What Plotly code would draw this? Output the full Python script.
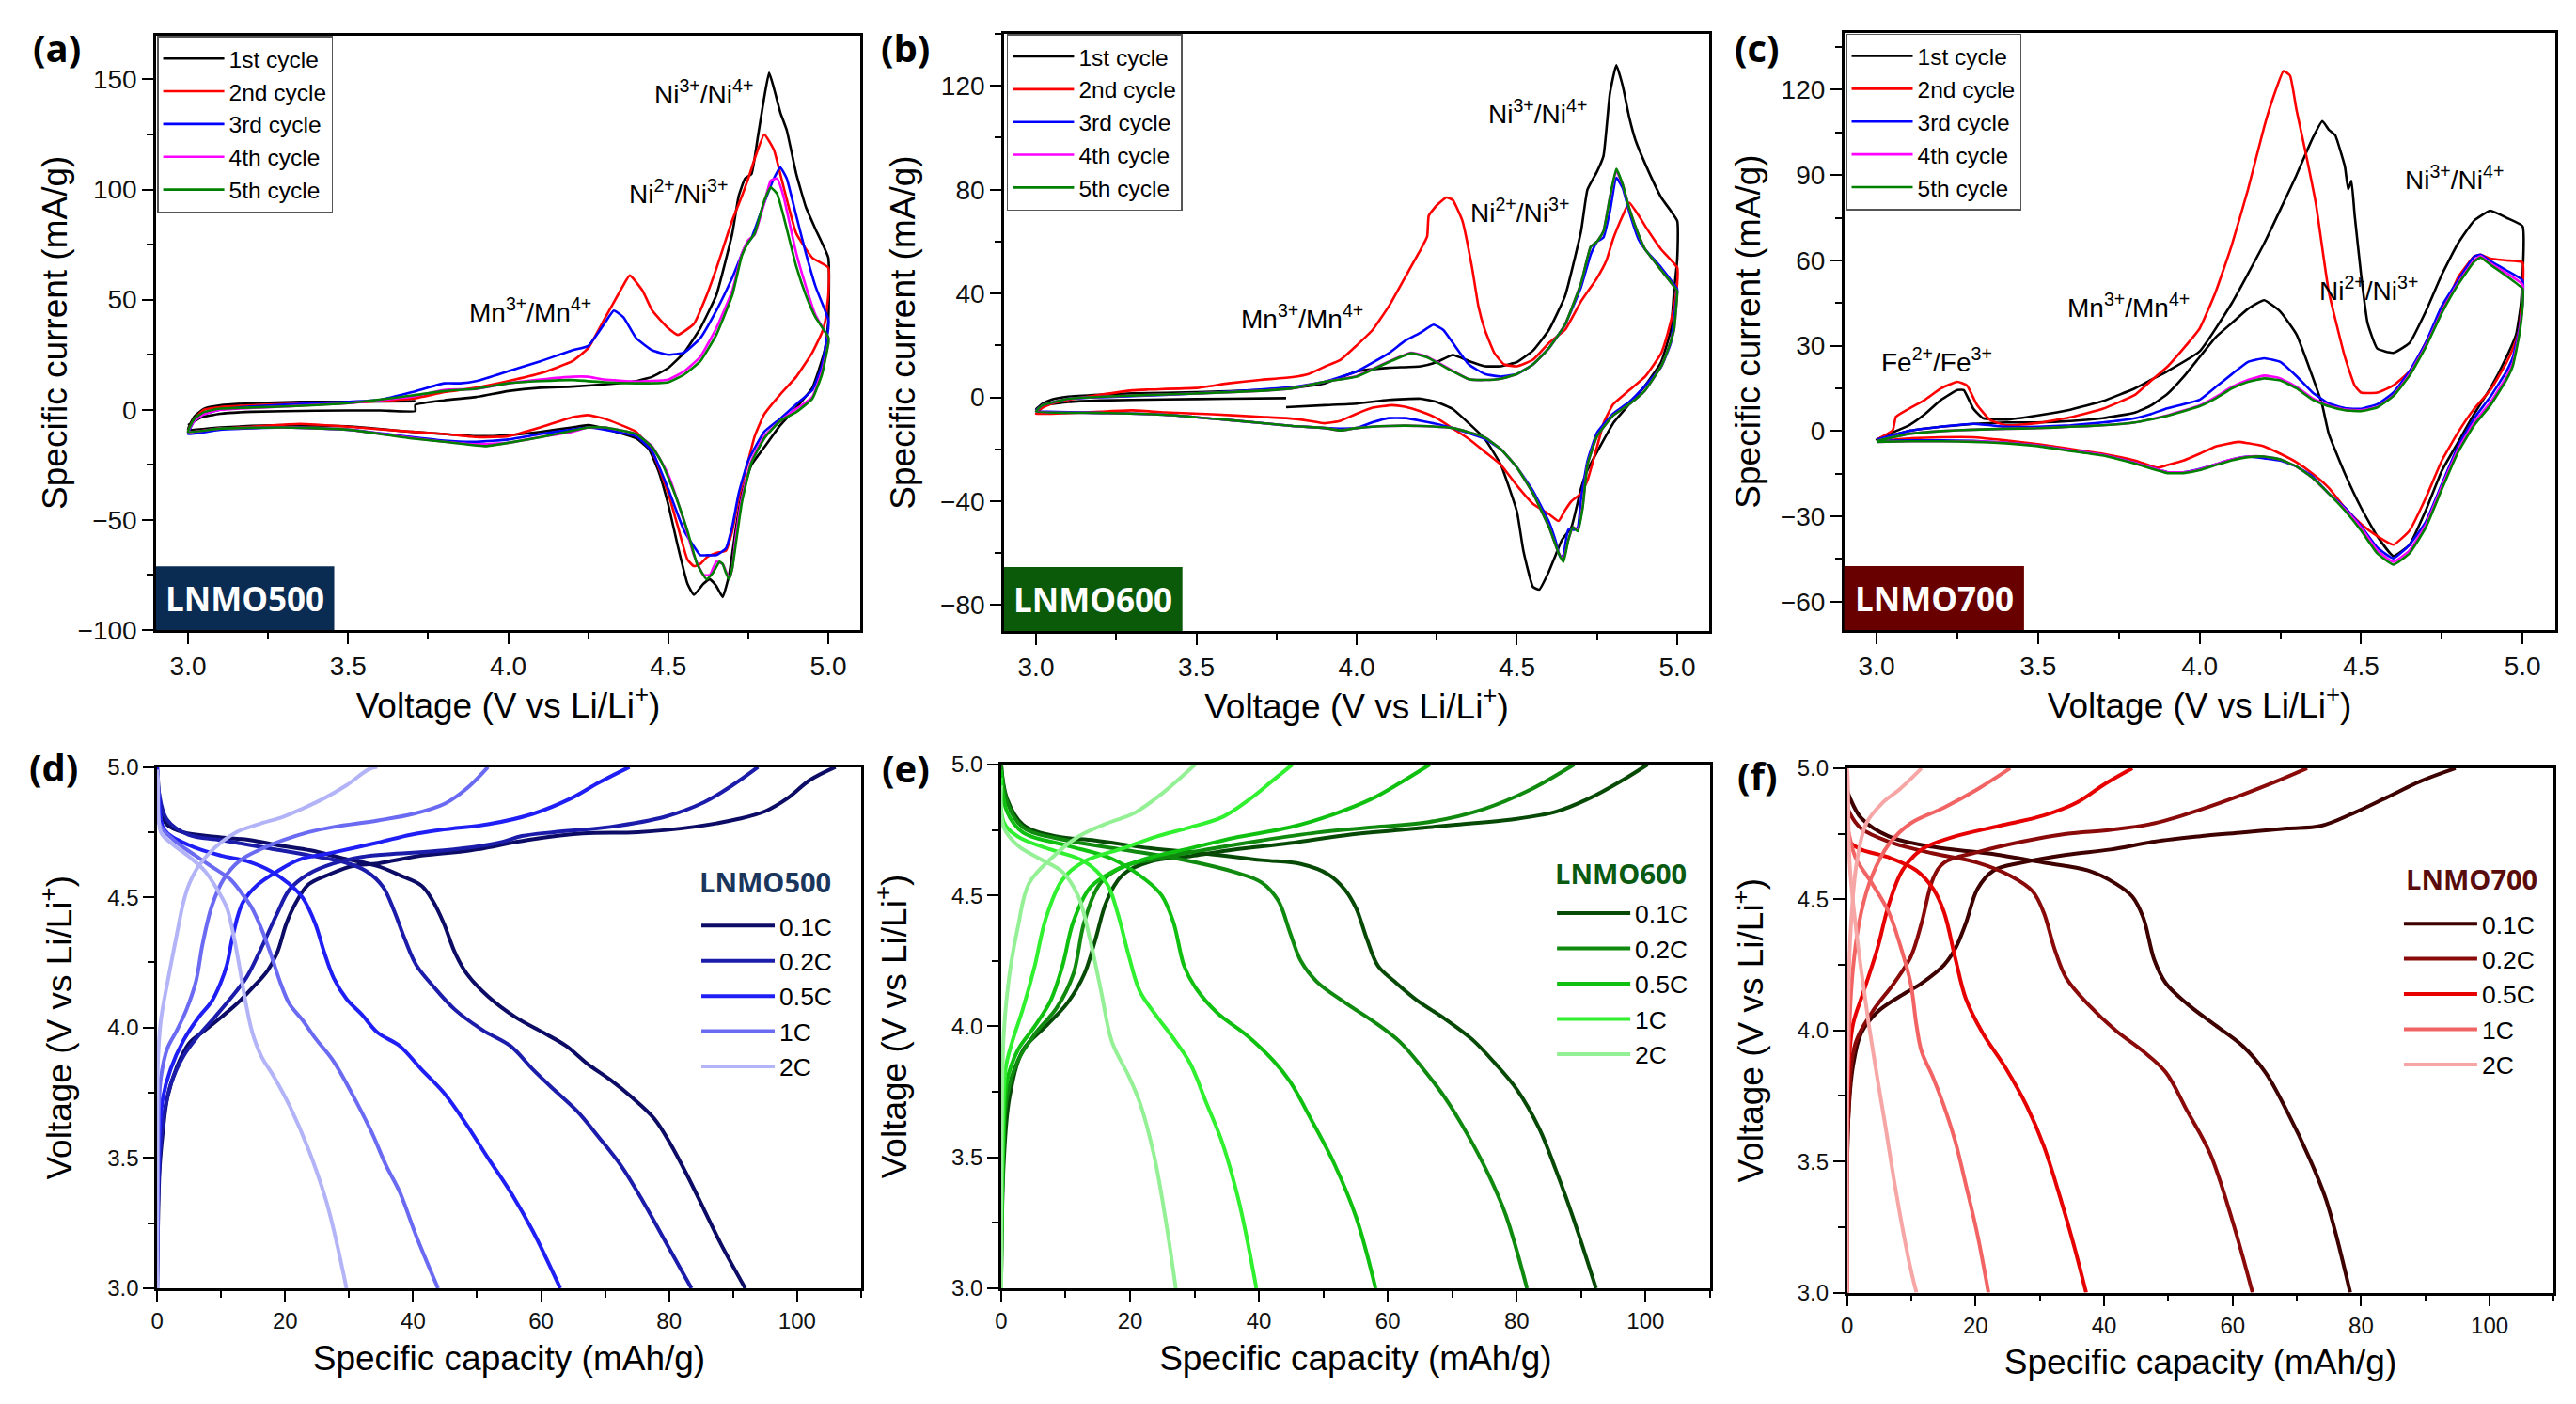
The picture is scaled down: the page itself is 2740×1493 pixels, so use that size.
import plotly.graph_objects as go

# page body keeps its default 8px margin, so the figure is drawn 16px smaller
W, H = 2724, 1477
FONT = "Liberation Sans"
BOLD = "Open Sans"

CYCLES = ["1st cycle", "2nd cycle", "3rd cycle", "4th cycle", "5th cycle"]
CV_COLORS = ["#000000", "#ff0000", "#0000ff", "#ff00ff", "#008000"]
RATES = ["0.1C", "0.2C", "0.5C", "1C", "2C"]

# ---------------- CV data, (voltage V, current mA/g) ----------------
# LNMO500
A_C1 = [(3.0, -7), (3.04, -3.5), (3.1, -1.8), (3.2, -0.9), (3.4, -0.4), (3.6, -0.3), (3.71, -0.6), (3.71, 2.2),
        (3.8, 4.3), (3.9, 5.8), (4.0, 8.5), (4.1, 10), (4.2, 10.5), (4.3, 11.5), (4.4, 13), (4.45, 15), (4.5, 19),
        (4.55, 26), (4.6, 37), (4.65, 52), (4.7, 80), (4.72, 97), (4.74, 105), (4.76, 107), (4.78, 124), (4.8, 142),
        (4.815, 153), (4.83, 146), (4.85, 135), (4.87, 127), (4.9, 107), (4.93, 92), (4.96, 82), (5.0, 69),
        (5.0, 40), (4.99, 28), (4.97, 18), (4.95, 10), (4.9, 1), (4.85, -7), (4.8, -17), (4.76, -25), (4.73, -38),
        (4.71, -55), (4.69, -75), (4.67, -85), (4.65, -80), (4.63, -77), (4.61, -79), (4.58, -84), (4.56, -79),
        (4.53, -62), (4.5, -43), (4.47, -28), (4.44, -18), (4.4, -13), (4.3, -8.5), (4.25, -7), (4.2, -8), (4.1, -10),
        (4.0, -11.5), (3.9, -12), (3.8, -11), (3.7, -10), (3.5, -7.5), (3.3, -7), (3.1, -8), (3.0, -9),
        (3.02, -3), (3.05, 0.5), (3.1, 2), (3.2, 3), (3.35, 3.6), (3.5, 3.6), (3.71, 3.9)]
A_C2 = [(3.0, -10), (3.02, -4), (3.05, 0), (3.1, 1.2), (3.2, 2), (3.35, 2.8), (3.5, 3.2), (3.6, 4), (3.7, 5),
        (3.8, 8), (3.9, 10), (4.0, 13), (4.1, 16.5), (4.2, 22), (4.25, 28), (4.3, 41), (4.35, 54), (4.38, 61),
        (4.42, 54), (4.45, 45), (4.5, 37), (4.53, 34), (4.58, 39), (4.62, 52), (4.65, 64), (4.7, 86), (4.73, 97),
        (4.75, 105), (4.77, 114), (4.8, 125), (4.83, 118), (4.85, 107), (4.88, 90), (4.9, 80), (4.95, 69), (5.0, 64.5),
        (5.0, 52), (4.99, 40), (4.98, 35), (4.95, 26), (4.9, 15), (4.85, 7), (4.8, -2), (4.77, -12), (4.75, -23),
        (4.72, -40), (4.7, -55), (4.68, -64), (4.65, -65), (4.62, -67), (4.6, -70), (4.58, -71), (4.56, -68),
        (4.53, -53), (4.5, -38), (4.45, -19), (4.4, -10), (4.3, -4), (4.25, -2.4), (4.2, -3.4), (4.1, -8), (4.0, -12),
        (3.9, -12.4), (3.8, -11), (3.7, -10), (3.5, -7.7), (3.35, -6.4), (3.2, -7.7), (3.1, -8.5), (3.0, -10)]
A_C3 = [(3.0, -11), (3.02, -5), (3.05, -2), (3.1, 0), (3.2, 1.5), (3.4, 3), (3.6, 4.5), (3.7, 8), (3.8, 12),
        (3.85, 12), (3.9, 13), (4.0, 17.5), (4.1, 22), (4.2, 27), (4.25, 29), (4.3, 39), (4.33, 45), (4.36, 42),
        (4.4, 32.5), (4.45, 27), (4.5, 25), (4.55, 26), (4.6, 32.5), (4.65, 45), (4.7, 60), (4.74, 74), (4.76, 78),
        (4.8, 94), (4.83, 105), (4.85, 110), (4.87, 105), (4.9, 88), (4.93, 71), (4.96, 56), (4.99, 45), (5.0, 41),
        (5.0, 37), (4.98, 20), (4.95, 9), (4.9, 2.5), (4.85, -4), (4.8, -10), (4.75, -23), (4.72, -38), (4.7, -53),
        (4.68, -63), (4.65, -66), (4.62, -66), (4.6, -66), (4.55, -55), (4.5, -36), (4.45, -19), (4.4, -12),
        (4.3, -9), (4.25, -8), (4.2, -9), (4.1, -11), (4.0, -13.5), (3.9, -14.5), (3.8, -14), (3.7, -12.4),
        (3.5, -9), (3.3, -8), (3.1, -9), (3.0, -11)]
A_C4 = [(3.0, -10), (3.02, -5), (3.05, -2), (3.1, 0), (3.3, 1.5), (3.5, 3), (3.7, 6), (3.8, 9), (3.9, 9.4),
        (4.0, 12), (4.1, 13.7), (4.2, 15), (4.25, 15), (4.3, 13.7), (4.4, 12.8), (4.5, 13.7), (4.55, 17.5), (4.6, 24),
        (4.65, 37), (4.7, 54), (4.73, 71), (4.75, 77), (4.77, 79.5), (4.8, 94), (4.82, 104), (4.84, 105), (4.86, 97),
        (4.9, 71), (4.93, 56), (4.96, 43), (5.0, 32.5),
        (5.0, 30), (4.98, 17.5), (4.95, 5.8), (4.9, 0.4), (4.85, -5), (4.8, -12), (4.76, -23), (4.73, -40),
        (4.71, -59), (4.7, -72), (4.69, -76.5), (4.67, -70), (4.65, -69), (4.63, -75), (4.61, -75), (4.58, -66),
        (4.55, -51), (4.5, -29.5), (4.45, -16.7), (4.4, -11), (4.3, -8), (4.25, -8), (4.2, -10), (4.1, -12.4),
        (4.0, -15), (3.9, -15.6), (3.8, -14.5), (3.7, -12.8), (3.5, -9), (3.3, -8), (3.1, -8.5), (3.0, -10)]
A_C5 = [(3.0, -10), (3.02, -4), (3.05, -1), (3.1, 0.5), (3.3, 1.5), (3.5, 3), (3.7, 6.5), (3.8, 8.5), (3.9, 9.5),
        (4.0, 12), (4.1, 13), (4.2, 13.5), (4.3, 12.5), (4.4, 12), (4.5, 12.5), (4.55, 16), (4.6, 22), (4.65, 34),
        (4.7, 52), (4.73, 70), (4.75, 76), (4.77, 80), (4.8, 95), (4.82, 101), (4.84, 98), (4.86, 88), (4.9, 65),
        (4.93, 52), (4.96, 42), (5.0, 33),
        (5.0, 30), (4.98, 16), (4.95, 5), (4.9, -1), (4.85, -5), (4.8, -13), (4.76, -24), (4.73, -42), (4.71, -62),
        (4.7, -72), (4.69, -77), (4.68, -74), (4.67, -70), (4.66, -69), (4.64, -74), (4.62, -77), (4.59, -70),
        (4.56, -55), (4.52, -38), (4.48, -24), (4.45, -17), (4.4, -11), (4.3, -8), (4.25, -8), (4.2, -9.5),
        (4.1, -12.5), (4.0, -15), (3.93, -16.5), (3.8, -14.5), (3.7, -13), (3.5, -9), (3.3, -8), (3.1, -8.5), (3.0, -10)]

# LNMO600
B_C1 = [(3.78, -0.3), (3.6, -0.5), (3.4, -0.8), (3.2, -1.2), (3.1, -1.8), (3.03, -3), (3.0, -4.5), (3.02, -2.5),
        (3.05, -0.8), (3.1, 0.3), (3.2, 1), (3.3, 1.5), (3.5, 2), (3.7, 2.8), (3.8, 3.5), (3.9, 5.4), (4.0, 10),
        (4.1, 11.4), (4.2, 12), (4.25, 13.6), (4.3, 16.3), (4.35, 14), (4.4, 12), (4.45, 12), (4.5, 13.6), (4.55, 18),
        (4.6, 26), (4.65, 39), (4.7, 64), (4.72, 80), (4.75, 87), (4.77, 93), (4.79, 117), (4.81, 128), (4.83, 120),
        (4.85, 108), (4.87, 99), (4.9, 90), (4.95, 77), (5.0, 68),
        (5.0, 53), (4.99, 41), (4.98, 26), (4.95, 13.6), (4.9, 4.5), (4.85, -2.7), (4.8, -10), (4.75, -21),
        (4.72, -28), (4.7, -35), (4.67, -50), (4.64, -55), (4.62, -61), (4.6, -67), (4.57, -74), (4.55, -73),
        (4.52, -59), (4.5, -44), (4.45, -26), (4.4, -16), (4.35, -10), (4.3, -4.5), (4.25, -1.8), (4.2, -0.5),
        (4.1, -1), (4.0, -2.4), (3.9, -3), (3.78, -3.8)]
B_C2 = [(3.78, -8), (3.7, -7.5), (3.55, -6.5), (3.4, -5.8), (3.3, -5), (3.2, -5.5), (3.1, -6), (3.0, -6.3),
        (3.02, -4), (3.05, -2.4), (3.1, -1), (3.2, 1), (3.3, 2.7), (3.35, 3), (3.5, 3.6), (3.6, 5.4), (3.7, 6.7),
        (3.8, 7.8), (3.85, 9), (3.9, 11.8), (3.95, 14.5), (4.0, 20), (4.05, 26), (4.1, 35), (4.15, 46), (4.2, 57),
        (4.22, 62), (4.225, 70), (4.25, 74), (4.28, 77), (4.3, 76), (4.33, 68), (4.36, 50), (4.38, 35), (4.4, 26),
        (4.43, 17), (4.46, 12.7), (4.5, 12), (4.55, 14.5), (4.6, 21), (4.65, 26), (4.7, 37), (4.75, 46), (4.78, 53),
        (4.8, 61), (4.83, 70), (4.85, 75), (4.88, 70), (4.9, 66), (4.95, 57), (5.0, 50),
        (5.0, 44), (4.99, 35), (4.97, 24.5), (4.95, 17), (4.9, 8), (4.85, 2.7), (4.8, -2.7), (4.77, -10),
        (4.75, -19), (4.72, -32), (4.7, -37), (4.67, -40), (4.65, -43.5), (4.63, -47.6), (4.6, -45), (4.55, -41),
        (4.5, -34), (4.45, -26), (4.4, -21), (4.35, -16), (4.3, -12), (4.25, -8), (4.2, -5.4), (4.15, -3.6),
        (4.11, -3), (4.05, -4), (4.0, -6.3), (3.95, -9), (3.9, -10), (3.85, -9), (3.78, -8)]
B_C3 = [(3.0, -5), (3.02, -3), (3.05, -2), (3.1, -0.5), (3.3, 0.5), (3.5, 1.5), (3.7, 3), (3.8, 4), (3.9, 6),
        (4.0, 10), (4.1, 17), (4.15, 21.7), (4.2, 25), (4.24, 28), (4.27, 26), (4.3, 21), (4.35, 12.7), (4.4, 9),
        (4.45, 8), (4.5, 9), (4.55, 12.7), (4.6, 19), (4.65, 28), (4.7, 42.5), (4.73, 55), (4.75, 60), (4.77, 61.6),
        (4.79, 71.6), (4.81, 84.6), (4.83, 80.6), (4.85, 71.6), (4.88, 60.7), (4.9, 57), (4.95, 50), (5.0, 41.7),
        (5.0, 41), (4.99, 30), (4.98, 21), (4.95, 11.8), (4.9, 4.5), (4.85, -1.8), (4.8, -6.3), (4.75, -13.6),
        (4.72, -24.5), (4.7, -39), (4.69, -50), (4.68, -51), (4.66, -51), (4.645, -60.7), (4.635, -61.6),
        (4.62, -55), (4.6, -48), (4.55, -36), (4.5, -27), (4.45, -20), (4.4, -16), (4.3, -11.8), (4.2, -9),
        (4.15, -8), (4.1, -8), (4.05, -9.6), (4.0, -11.8), (3.95, -12), (3.9, -11.8), (3.8, -11), (3.6, -8.7),
        (3.4, -6.7), (3.2, -6), (3.0, -5.4)]
B_C4 = [(3.0, -5.4), (3.02, -3), (3.05, -2), (3.1, -0.5), (3.3, 0.7), (3.5, 1.5), (3.7, 2.5), (3.8, 3.5), (3.9, 6),
        (4.0, 8.2), (4.1, 13.8), (4.17, 17.2), (4.22, 15.6), (4.3, 10.2), (4.35, 7), (4.4, 6.7), (4.45, 7.2),
        (4.5, 9), (4.55, 12.7), (4.6, 19), (4.65, 28), (4.7, 44), (4.73, 58), (4.75, 60), (4.77, 64), (4.79, 77),
        (4.81, 87), (4.83, 82), (4.85, 73), (4.88, 62.5), (4.9, 57), (4.95, 49), (5.0, 41),
        (5.0, 40), (4.99, 26), (4.97, 18), (4.95, 12), (4.9, 2.7), (4.85, -2.7), (4.8, -7), (4.75, -15), (4.72, -26),
        (4.705, -42), (4.69, -51), (4.675, -50), (4.66, -55), (4.645, -62.5), (4.63, -60), (4.6, -50), (4.55, -37),
        (4.5, -27), (4.45, -20), (4.4, -15.4), (4.3, -11.8), (4.2, -11), (4.1, -11), (4.0, -11.8), (3.95, -12.7),
        (3.9, -11.8), (3.8, -11), (3.6, -8.7), (3.4, -6.7), (3.2, -6), (3.0, -5.4)]
B_C5 = [(3.0, -5.4), (3.02, -3), (3.05, -2), (3.1, -0.5), (3.3, 0.7), (3.5, 1.5), (3.7, 2.5), (3.8, 3.5), (3.9, 6),
        (4.0, 8), (4.1, 13.6), (4.17, 17), (4.22, 15.4), (4.3, 10), (4.35, 7), (4.4, 6.7), (4.45, 7.2), (4.5, 9),
        (4.55, 12.7), (4.6, 19), (4.65, 28), (4.7, 44), (4.73, 58), (4.75, 60), (4.77, 64), (4.79, 77), (4.81, 88),
        (4.83, 82), (4.85, 73), (4.88, 62.5), (4.9, 57), (4.95, 49), (5.0, 41),
        (5.0, 40), (4.99, 26), (4.97, 18), (4.95, 12), (4.9, 2.7), (4.85, -2.7), (4.8, -7), (4.75, -15), (4.72, -26),
        (4.705, -42.6), (4.69, -51.6), (4.675, -50), (4.66, -55), (4.645, -63.4), (4.63, -60), (4.6, -50),
        (4.55, -37), (4.5, -27), (4.45, -20), (4.4, -15.4), (4.3, -11.8), (4.2, -11), (4.1, -11), (4.0, -11.8),
        (3.95, -12.7), (3.9, -11.8), (3.8, -11), (3.6, -8.7), (3.4, -6.7), (3.2, -6), (3.0, -5.4)]

# LNMO700
C_C1 = [(3.0, -3), (3.05, -0.5), (3.1, 2), (3.15, 6), (3.2, 11), (3.25, 14.4), (3.27, 14.4), (3.3, 7.8),
        (3.33, 4.5), (3.4, 4), (3.5, 5.5), (3.6, 7.5), (3.7, 10.5), (3.8, 15), (3.85, 18), (3.9, 21), (4.0, 28),
        (4.1, 45), (4.2, 66), (4.3, 90), (4.35, 103), (4.38, 109), (4.4, 106), (4.42, 104), (4.44, 97), (4.45, 93),
        (4.46, 85), (4.47, 88), (4.48, 76), (4.5, 55), (4.52, 38), (4.55, 29), (4.6, 27.5), (4.65, 31), (4.7, 42),
        (4.75, 55), (4.8, 66), (4.85, 74), (4.9, 77.5), (4.95, 75), (5.0, 72),
        (4.995, 45), (4.98, 34), (4.95, 26), (4.9, 15), (4.85, 6), (4.8, -4), (4.75, -14), (4.7, -28), (4.65, -40),
        (4.6, -44), (4.55, -37), (4.5, -27), (4.45, -15), (4.4, -1), (4.38, 9), (4.35, 19), (4.3, 34), (4.25, 42),
        (4.2, 46), (4.15, 43), (4.1, 38), (4.05, 33), (4.0, 26), (3.95, 19), (3.9, 13), (3.85, 9), (3.8, 6.5),
        (3.7, 4.5), (3.6, 3.5), (3.5, 3), (3.4, 3), (3.3, 2.5), (3.2, 1.5), (3.1, 0), (3.0, -3)]
C_C2 = [(3.0, -3), (3.05, 0.3), (3.06, 5), (3.1, 7.8), (3.15, 11), (3.2, 15), (3.25, 17.3), (3.28, 16), (3.31, 9.4),
        (3.35, 4), (3.4, 2), (3.5, 2.8), (3.6, 4.8), (3.7, 7.8), (3.8, 12.7), (3.85, 17.7), (3.9, 22.6), (3.95, 29),
        (4.0, 36), (4.05, 49), (4.1, 65.5), (4.15, 85), (4.2, 107), (4.23, 118), (4.26, 126.6), (4.28, 125),
        (4.3, 113), (4.33, 97), (4.36, 80), (4.4, 49), (4.45, 26), (4.48, 16), (4.5, 13.5), (4.55, 13.5), (4.6, 16),
        (4.65, 21), (4.7, 31), (4.75, 43), (4.78, 49), (4.8, 54), (4.85, 61.4), (4.87, 62), (4.9, 60.6), (4.95, 60),
        (5.0, 59.3),
        (5.0, 49), (4.99, 36), (4.97, 29), (4.95, 24), (4.9, 14.4), (4.85, 7.8), (4.8, -0.5), (4.75, -10.4),
        (4.7, -23.6), (4.65, -35), (4.6, -40), (4.55, -37), (4.5, -32.7), (4.45, -27), (4.4, -20), (4.35, -15),
        (4.3, -11), (4.25, -8), (4.2, -5.4), (4.15, -4.3), (4.12, -3.8), (4.05, -5.4), (4.0, -8), (3.95, -10.4),
        (3.9, -12), (3.87, -12.9), (3.8, -10.4), (3.7, -8), (3.6, -6.3), (3.5, -4.6), (3.4, -3.3), (3.3, -2.2),
        (3.2, -2.2), (3.1, -2.6), (3.0, -3.5)]
C_C3 = [(3.0, -3), (3.1, 0), (3.2, 1.5), (3.3, 2.5), (3.4, 1.5), (3.5, 1.5), (3.6, 2), (3.7, 3), (3.8, 4.5),
        (3.85, 6), (3.9, 8), (4.0, 11), (4.05, 15.5), (4.1, 20), (4.15, 24.3), (4.2, 25.6), (4.25, 24.3), (4.3, 19.3),
        (4.35, 13.5), (4.4, 9.7), (4.45, 8), (4.5, 7.8), (4.55, 9.4), (4.6, 13.5), (4.65, 21), (4.7, 31), (4.75, 44),
        (4.8, 53), (4.85, 61.4), (4.87, 62), (4.9, 59.8), (4.95, 56.5), (5.0, 53),
        (5.0, 45), (4.99, 36), (4.97, 26), (4.95, 21), (4.9, 12), (4.85, 4.5), (4.8, -5.4), (4.75, -18.7),
        (4.7, -32), (4.65, -40), (4.6, -44.8), (4.55, -41), (4.5, -33.5), (4.45, -27), (4.4, -22), (4.35, -16),
        (4.3, -12.5), (4.25, -10.4), (4.2, -9.6), (4.15, -9), (4.1, -10), (4.05, -11.7), (4.0, -13.4),
        (3.95, -14.5), (3.9, -14.5), (3.8, -11.2), (3.7, -8.4), (3.6, -6.8), (3.5, -5.1), (3.4, -4.1), (3.3, -3.5),
        (3.2, -3.3), (3.1, -3.3), (3.0, -3.5)]
C_C4 = [(3.0, -3.5), (3.1, -1), (3.2, 0), (3.3, 0.5), (3.4, 0.8), (3.5, 1), (3.6, 1.5), (3.7, 2), (3.8, 3),
        (3.9, 5.5), (4.0, 9), (4.05, 12), (4.1, 15.5), (4.15, 18), (4.2, 19.5), (4.25, 18.5), (4.3, 15.5),
        (4.35, 11.5), (4.4, 9), (4.45, 7.5), (4.5, 7.3), (4.55, 8.5), (4.6, 12.5), (4.65, 20), (4.7, 30), (4.75, 42),
        (4.8, 52), (4.85, 60), (4.87, 61.5), (4.9, 59), (4.95, 55.5), (5.0, 51.5),
        (5.0, 45), (4.99, 35), (4.97, 24), (4.95, 19), (4.9, 10), (4.85, 3), (4.8, -6.5), (4.75, -19.5), (4.7, -33),
        (4.65, -42), (4.6, -46), (4.55, -42), (4.5, -34), (4.45, -27.5), (4.4, -22), (4.35, -16.5), (4.3, -12.5),
        (4.25, -10), (4.2, -9), (4.15, -9), (4.1, -10), (4.05, -11.7), (4.0, -13.5), (3.95, -14.5), (3.9, -14.5),
        (3.8, -11.2), (3.7, -8.4), (3.6, -6.8), (3.5, -5.1), (3.4, -4.1), (3.3, -3.6), (3.2, -3.6), (3.1, -3.6),
        (3.0, -3.8)]
C_C5 = [(3.0, -3.5), (3.1, -1), (3.2, 0), (3.3, 0.5), (3.4, 0.8), (3.5, 1), (3.6, 1.5), (3.7, 2), (3.8, 3),
        (3.9, 5.3), (4.0, 8.7), (4.05, 11.5), (4.1, 15), (4.15, 17.3), (4.2, 18.5), (4.25, 17.8), (4.3, 15),
        (4.35, 11), (4.4, 8.7), (4.45, 7.3), (4.5, 7), (4.55, 8.3), (4.6, 12.3), (4.65, 19.5), (4.7, 29.5),
        (4.75, 41.5), (4.8, 51.5), (4.85, 59.5), (4.87, 61), (4.9, 58.5), (4.95, 54.5), (5.0, 50),
        (5.0, 44), (4.99, 34), (4.97, 23), (4.95, 18), (4.9, 9), (4.85, 2), (4.8, -7.5), (4.75, -20.5), (4.7, -34),
        (4.65, -43), (4.6, -47), (4.55, -43), (4.5, -35), (4.45, -28), (4.4, -22), (4.35, -16.5), (4.3, -12.5),
        (4.25, -10), (4.2, -9), (4.15, -9.2), (4.1, -10.3), (4.05, -12), (4.0, -13.8), (3.95, -14.8), (3.9, -14.8),
        (3.8, -11.5), (3.7, -8.6), (3.6, -7), (3.5, -5.3), (3.4, -4.3), (3.3, -3.8), (3.2, -3.6), (3.1, -3.6),
        (3.0, -3.8)]

# ---------------- charge/discharge data, (capacity mAh/g, voltage V) ----------------
D_DIS = [
    [(0, 5.0), (0.3, 4.9), (0.6, 4.83), (1.5, 4.78), (4, 4.75), (10, 4.73), (14.5, 4.72), (18.8, 4.70), (24, 4.68),
     (29, 4.65), (34.4, 4.62), (37.9, 4.585), (41.3, 4.545), (43, 4.49), (44.8, 4.40), (46.5, 4.29), (48.3, 4.21),
     (51.7, 4.12), (56, 4.04), (60.4, 3.98), (63.9, 3.93), (67.3, 3.86), (70.8, 3.80), (74.3, 3.73), (77.7, 3.65),
     (80.3, 3.55), (82.9, 3.43), (85.5, 3.30), (88.1, 3.17), (91.9, 3.0)],
    [(0, 5.0), (0.3, 4.9), (1.5, 4.8), (4.9, 4.74), (10, 4.72), (17, 4.69), (24, 4.66), (29.2, 4.635), (32.7, 4.60),
     (35.3, 4.54), (37, 4.45), (38.7, 4.34), (40.5, 4.24), (43.1, 4.16), (46.5, 4.07), (50.9, 3.99), (55.2, 3.93),
     (58.7, 3.84), (62.1, 3.76), (65.6, 3.68), (69, 3.58), (72.5, 3.47), (76, 3.33), (79.4, 3.18), (83.5, 3.0)],
    [(0, 5.0), (0.3, 4.88), (1.1, 4.76), (5, 4.70), (10, 4.66), (13.9, 4.64), (17.8, 4.60), (20.7, 4.55),
     (22.7, 4.50), (24.7, 4.40), (26.1, 4.29), (27.6, 4.19), (29.6, 4.11), (32, 4.05), (34.5, 3.98), (37.9, 3.93),
     (41.3, 3.84), (44.8, 3.75), (48.3, 3.63), (51.7, 3.50), (55.2, 3.37), (58.7, 3.22), (63, 3.0)],
    [(0, 4.97), (0.4, 4.78), (2.6, 4.72), (6, 4.66), (9, 4.61), (11.4, 4.57), (13.4, 4.51), (14.8, 4.46),
     (16.3, 4.38), (17.8, 4.28), (19.3, 4.17), (20.7, 4.09), (22.7, 4.03), (24.7, 3.96), (27.6, 3.87), (30.6, 3.74),
     (33.5, 3.60), (35.8, 3.47), (37.9, 3.37), (40.5, 3.20), (43.9, 3.0)],
    [(0, 4.99), (0.15, 4.95), (0.6, 4.75), (2.1, 4.71), (5, 4.656), (7.5, 4.60), (9.4, 4.53), (10.9, 4.46),
     (11.9, 4.36), (12.9, 4.23), (13.9, 4.09), (14.9, 3.98), (16.3, 3.89), (18.3, 3.81), (20.7, 3.70), (23.7, 3.53),
     (26.6, 3.32), (29.6, 3.0)],
]
D_CH = [
    [(0, 3.0), (0.15, 3.25), (0.4, 3.46), (0.9, 3.60), (1.6, 3.73), (3.1, 3.85), (5, 3.94), (7.5, 3.99), (10, 4.04),
     (12.4, 4.09), (14.8, 4.15), (17.3, 4.22), (18.8, 4.29), (20.2, 4.40), (21.7, 4.48), (23.7, 4.55), (27.1, 4.59),
     (30.5, 4.62), (34.5, 4.63), (41.3, 4.66), (49, 4.68), (57.9, 4.72), (66.5, 4.745), (75.1, 4.75), (83.8, 4.77),
     (90.7, 4.80), (95, 4.83), (98.5, 4.88), (102, 4.95), (106, 5.0)],
    [(0, 3.0), (0.15, 3.32), (0.5, 3.53), (1.1, 3.67), (2.1, 3.78), (4.1, 3.89), (6.5, 3.97), (9, 4.04), (11.4, 4.11),
     (13.9, 4.19), (15.8, 4.28), (17.3, 4.36), (18.8, 4.44), (20.7, 4.53), (23.7, 4.59), (27.6, 4.63), (32, 4.655),
     (36, 4.665), (44.8, 4.68), (53.5, 4.71), (57, 4.735), (62, 4.75), (70.8, 4.77), (79.5, 4.81), (85.5, 4.865),
     (89.9, 4.93), (93.9, 5.0)],
    [(0, 3.0), (0.15, 3.4), (0.4, 3.60), (0.9, 3.73), (2.1, 3.84), (4.1, 3.95), (6.5, 4.04), (8.5, 4.10),
     (9.9, 4.17), (10.9, 4.24), (11.9, 4.36), (13.4, 4.48), (15.8, 4.55), (18.8, 4.60), (22.2, 4.645), (27.1, 4.67),
     (34.5, 4.71), (39.6, 4.74), (44.8, 4.76), (51.7, 4.78), (58.7, 4.82), (64.7, 4.88), (69, 4.94), (73.8, 5.0)],
    [(0, 3.0), (0.15, 3.46), (0.3, 3.71), (0.6, 3.81), (1.6, 3.92), (3.1, 3.99), (4.6, 4.07), (6.1, 4.18),
     (7.1, 4.32), (8.6, 4.47), (10.4, 4.57), (12.9, 4.64), (15.8, 4.68), (19.8, 4.72), (23.7, 4.75), (27.6, 4.77),
     (34.5, 4.795), (40, 4.82), (45, 4.86), (48.5, 4.92), (51.7, 5.0)],
    [(0, 3.0), (0.05, 3.67), (0.15, 3.88), (0.6, 4.03), (1.6, 4.17), (3.1, 4.36), (4.1, 4.48), (5, 4.55), (6.5, 4.62),
     (9, 4.69), (12.4, 4.75), (15.8, 4.78), (19.8, 4.81), (22.7, 4.84), (26.1, 4.88), (29.6, 4.93), (33, 4.99),
     (34.4, 5.0)],
]
E_DIS = [
    [(0, 5.0), (0.9, 4.87), (3.4, 4.77), (8.6, 4.725), (14.6, 4.71), (23.2, 4.68), (31.8, 4.66), (40.4, 4.635),
     (46.5, 4.62), (50.8, 4.58), (53.4, 4.52), (55.1, 4.45), (56.8, 4.33), (58.5, 4.23), (61.1, 4.17), (64.5, 4.10),
     (68.8, 4.03), (73.1, 3.95), (76.6, 3.86), (80, 3.76), (83.5, 3.61), (86.1, 3.45), (88.6, 3.28), (92.3, 3.0)],
    [(0, 5.0), (0.9, 4.86), (3.4, 4.76), (10.3, 4.71), (18.9, 4.675), (27.5, 4.64), (36.1, 4.59), (40.4, 4.55),
     (43, 4.48), (44.8, 4.36), (46.5, 4.25), (49, 4.17), (53.4, 4.09), (57.7, 4.02), (61.9, 3.94), (65.4, 3.84),
     (68.8, 3.73), (72.3, 3.59), (75.7, 3.43), (78.3, 3.28), (81.6, 3.0)],
    [(0, 4.98), (0.9, 4.82), (3.4, 4.74), (10.3, 4.69), (17.2, 4.64), (22.4, 4.56), (24.9, 4.50), (26.7, 4.40),
     (28.4, 4.23), (30.1, 4.15), (33.6, 4.05), (37.9, 3.97), (42.2, 3.87), (44.8, 3.79), (48.2, 3.64), (51.6, 3.48),
     (55.1, 3.27), (58.1, 3.0)],
    [(0, 4.95), (0.4, 4.78), (2.6, 4.725), (7.7, 4.675), (12.9, 4.63), (16.4, 4.545), (18.1, 4.43), (19.8, 4.27),
     (21.5, 4.135), (24.1, 4.04), (26.7, 3.955), (29.3, 3.86), (31.8, 3.71), (34.4, 3.55), (37, 3.32), (39.6, 3.0)],
    [(0, 4.92), (0.4, 4.76), (2.6, 4.69), (6, 4.64), (9.5, 4.59), (12, 4.495), (13.8, 4.33), (15.5, 4.135),
     (17.2, 3.94), (19.8, 3.81), (21.5, 3.71), (23.7, 3.51), (25.4, 3.28), (27.1, 3.0)],
]
E_CH = [
    [(0, 3.0), (0.4, 3.48), (1.3, 3.73), (3.4, 3.91), (6.9, 4.0), (10.3, 4.09), (12.9, 4.2), (14.6, 4.33),
     (16.4, 4.48), (18.9, 4.58), (23.2, 4.63), (29.3, 4.65), (36.1, 4.675), (44.8, 4.70), (53.4, 4.73), (62, 4.75),
     (70.6, 4.77), (79.2, 4.79), (86.1, 4.82), (91.2, 4.87), (96.4, 4.94), (100.3, 5.0)],
    [(0, 3.0), (0.3, 3.48), (0.9, 3.73), (2.6, 3.87), (5.2, 3.97), (8.6, 4.07), (11.2, 4.2), (12.9, 4.40),
     (15.5, 4.55), (18.9, 4.61), (24.1, 4.64), (31.8, 4.675), (40.4, 4.71), (49, 4.74), (57.6, 4.76), (66.3, 4.78),
     (74.9, 4.83), (81.8, 4.90), (88.9, 5.0)],
    [(0, 3.0), (0.3, 3.52), (0.9, 3.79), (2.6, 3.91), (5.2, 4.0), (7.7, 4.10), (9.5, 4.23), (11.2, 4.40),
     (13.8, 4.53), (17.2, 4.59), (22.4, 4.64), (29.3, 4.68), (36.1, 4.72), (44.8, 4.76), (51.6, 4.81), (57.6, 4.87),
     (61.9, 4.93), (66.5, 5.0)],
    [(0, 3.0), (0.2, 3.52), (0.7, 3.84), (1.7, 3.94), (3.4, 4.07), (5.2, 4.23), (6.9, 4.41), (9.5, 4.56),
     (12.9, 4.63), (18.9, 4.68), (24.1, 4.725), (29.3, 4.76), (34.4, 4.80), (38.7, 4.87), (42.2, 4.94), (45.2, 5.0)],
    [(0, 3.0), (0.1, 3.64), (0.4, 3.97), (1.3, 4.2), (2.6, 4.38), (4.3, 4.545), (7.7, 4.64), (12, 4.725),
     (16.4, 4.775), (20.7, 4.815), (25, 4.89), (30.1, 5.0)],
]
F_DIS = [
    [(0, 4.92), (0.4, 4.89), (2.2, 4.81), (6.5, 4.74), (13.4, 4.70), (22, 4.675), (30.6, 4.64), (37.5, 4.61),
     (41.8, 4.56), (44.4, 4.51), (46.1, 4.43), (47.8, 4.27), (49.6, 4.18), (53, 4.10), (57.3, 4.02), (61.6, 3.94),
     (65.1, 3.84), (68.5, 3.69), (72, 3.51), (74.6, 3.35), (78.3, 3.0)],
    [(0, 4.86), (0.4, 4.83), (2.2, 4.77), (6.5, 4.72), (13.4, 4.675), (20.3, 4.64), (25.4, 4.59), (28.9, 4.53),
     (30.6, 4.45), (32.3, 4.31), (34.1, 4.2), (37.5, 4.10), (41.8, 4.0), (46.1, 3.92), (49.6, 3.84), (53, 3.69),
     (56.5, 3.53), (59.9, 3.28), (63.1, 3.0)],
    [(0, 4.75), (0.4, 4.72), (2.2, 4.69), (6.5, 4.66), (10.8, 4.61), (13.4, 4.54), (15.1, 4.45), (16.8, 4.28),
     (18.5, 4.12), (21.1, 3.99), (24.6, 3.86), (28, 3.71), (30.6, 3.56), (33.2, 3.36), (35.3, 3.18), (37.2, 3.0)],
    [(0, 4.78), (0.2, 4.76), (1.3, 4.66), (3.9, 4.56), (6.5, 4.45), (8.2, 4.33), (9.9, 4.18), (10.8, 4.02),
     (11.6, 3.92), (13.4, 3.82), (15.1, 3.71), (16.8, 3.58), (18.5, 3.41), (20.3, 3.22), (22, 3.0)],
    [(0, 5.0), (0.1, 4.97), (0.4, 4.64), (1.1, 4.45), (2.2, 4.23), (3.4, 4.02), (4.7, 3.82), (6, 3.63), (7.3, 3.43),
     (8.6, 3.25), (9.9, 3.09), (10.8, 3.0)],
]
F_CH = [
    [(0, 3.0), (0.2, 3.66), (0.9, 3.86), (2.2, 3.99), (4.7, 4.07), (8.2, 4.13), (11.6, 4.18), (15.1, 4.25),
     (16.8, 4.31), (18.5, 4.41), (20.3, 4.54), (22.8, 4.61), (27.2, 4.64), (34.1, 4.67), (41, 4.69), (47.8, 4.72),
     (54.7, 4.74), (61.6, 4.755), (68.5, 4.77), (73.7, 4.78), (78.9, 4.83), (84.1, 4.89), (89.2, 4.95), (94.7, 5.0)],
    [(0, 3.0), (0.2, 3.66), (1.3, 3.95), (3.9, 4.07), (7.3, 4.18), (9.9, 4.28), (11.6, 4.41), (13.4, 4.58),
     (15.1, 4.64), (20.3, 4.68), (27.2, 4.72), (34.1, 4.75), (41, 4.765), (47.8, 4.79), (54.7, 4.84), (61.6, 4.90),
     (66.8, 4.95), (71.6, 5.0)],
    [(0, 3.0), (0.2, 3.82), (0.9, 4.02), (2.6, 4.15), (4.7, 4.31), (6.5, 4.48), (8.6, 4.61), (11.6, 4.69),
     (16.8, 4.74), (23.7, 4.78), (30.6, 4.82), (35.8, 4.87), (40.1, 4.94), (44.4, 5.0)],
    [(0, 3.0), (0.1, 3.82), (0.9, 4.23), (2.2, 4.45), (3.9, 4.59), (6.5, 4.71), (9.9, 4.79), (15.1, 4.85),
     (20.3, 4.92), (25.4, 5.0)],
    [(0, 3.0), (0.1, 4.0), (0.6, 4.40), (1.5, 4.64), (3, 4.79), (5.6, 4.87), (8.2, 4.92), (11.6, 5.0)],
]

BLUES = ["#0c0c66", "#1c1cab", "#1f1ff5", "#6a6af2", "#b3b3f7"]
GREENS = ["#064a06", "#0f8a0f", "#10c010", "#30f030", "#94f094"]
REDS = ["#3f0000", "#8a0a0a", "#e60000", "#f26464", "#f7a6a6"]

fig = go.Figure()


def add_cv(curves, n):
    s = "" if n == 1 else str(n)
    for name, col, pts in zip(CYCLES, CV_COLORS, curves):
        v, i = zip(*pts)
        fig.add_trace(go.Scatter(x=v, y=i, mode="lines", name=name, xaxis="x" + s, yaxis="y" + s,
                                 legend="legend" + s,
                                 line=dict(color=col, width=2.6, shape="spline", smoothing=0.4)))


def add_gcd(dis, ch, colors, n):
    s = str(n)
    for k, (rate, col) in enumerate(zip(RATES, colors)):
        q, v = zip(*dis[k])
        fig.add_trace(go.Scatter(x=q, y=v, mode="lines", name=rate, xaxis="x" + s, yaxis="y" + s,
                                 legend="legend" + s, legendgroup=rate + s,
                                 line=dict(color=col, width=4, shape="spline", smoothing=1.0)))
        q, v = zip(*ch[k])
        fig.add_trace(go.Scatter(x=q, y=v, mode="lines", name=rate, xaxis="x" + s, yaxis="y" + s,
                                 showlegend=False, legendgroup=rate + s,
                                 line=dict(color=col, width=4, shape="spline", smoothing=1.0)))


add_cv([A_C1, A_C2, A_C3, A_C4, A_C5], 1)
add_cv([B_C1, B_C2, B_C3, B_C4, B_C5], 2)
add_cv([C_C1, C_C2, C_C3, C_C4, C_C5], 3)
add_gcd(D_DIS, D_CH, BLUES, 4)
add_gcd(E_DIS, E_CH, GREENS, 5)
add_gcd(F_DIS, F_CH, REDS, 6)


def ax(domain, anchor, rng, dtick, minor, tsize, title, standoff, **kw):
    d = dict(domain=domain, anchor=anchor, range=rng, dtick=dtick, showline=True, linecolor="black",
             linewidth=2.5, mirror=True, ticks="outside", ticklen=12, tickwidth=2.2, tickcolor="black",
             showgrid=False, zeroline=False, automargin=False,
             tickfont=dict(family=FONT, size=tsize, color="#111"),
             minor=dict(ticks="outside", ticklen=7, tickwidth=2, tickcolor="black", dtick=minor),
             title=dict(text=title, standoff=standoff, font=dict(family=FONT, size=37, color="black")))
    d.update(kw)
    return d


XT = "Voltage (V vs Li/Li<sup>+</sup>)"
CT = "Specific current (mA/g)"
QT = "Specific capacity (mAh/g)"

top_x = [[0.0580, 0.3330], [0.3891, 0.6645], [0.7172, 0.9947]]
top_y = [[0.5518, 0.9800], [0.5511, 0.9810], [0.5518, 0.9817]]
bot_x = [[0.0584, 0.3333], [0.3880, 0.6648], [0.7183, 0.9943]]
bot_y = [[0.0779, 0.4532], [0.0779, 0.4550], [0.0748, 0.4523]]

layout = dict(template="none", width=W, height=H, margin=dict(l=0, r=0, t=0, b=0, pad=0),
              paper_bgcolor="white", plot_bgcolor="white", font=dict(family=FONT, color="black"))

cv_ranges = [([-100, 170], 50, 25, 0), ([-90, 140], 40, 20, 16), ([-70, 140], 30, 15, 10)]
for k in range(3):
    s = "" if k == 0 else str(k + 1)
    yr, yd, ym, so = cv_ranges[k]
    layout["xaxis" + s] = ax(top_x[k], "y" + s, [2.9, 5.1], 0.5, 0.25, 28, XT, 14, tick0=3.0,
                             tickformat=".1f")
    layout["yaxis" + s] = ax(top_y[k], "x" + s, yr, yd, ym, 28, CT, so, tick0=0)
bot_standoff = [27, 37, 25]
for k in range(3):
    s = str(k + 4)
    layout["xaxis" + s] = ax(bot_x[k], "y" + s, [0, 110], 20, 10, 24, QT, 14, tick0=0)
    layout["yaxis" + s] = ax(bot_y[k], "x" + s, [3, 5], 0.5, 0.25, 24, XT, bot_standoff[k], tick0=3.0,
                             tickformat=".1f")

leg_top = [(0.0584, 0.9795), (0.3902, 0.9810), (0.7177, 0.9813)]
for k, (lx, ly) in enumerate(leg_top):
    s = "" if k == 0 else str(k + 1)
    layout["legend" + s] = dict(x=lx, y=ly, xanchor="left", yanchor="top", bgcolor="white",
                                bordercolor="#555", borderwidth=1.5, itemwidth=65, tracegroupgap=0,
                                font=dict(family=FONT, size=24.5, color="black"))

leg_bot = [(0.2691, 0.3551), (0.6032, 0.3640), (0.9339, 0.3565)]
for k, (lx, ly) in enumerate(leg_bot):
    s = str(k + 4)
    layout["legend" + s] = dict(x=lx, y=ly, xanchor="left", yanchor="top", bgcolor="rgba(0,0,0,0)",
                                borderwidth=0, itemwidth=78, tracegroupgap=0,
                                font=dict(family=FONT, size=26.5, color="black"))

fig.update_layout(**layout)

# legend headings of the charge/discharge panels
heads = [("LNMO500", "#1b365d", 0.2695, 0.3710), ("LNMO600", "#0b5a12", 0.6035, 0.3771),
         ("LNMO700", "#5a0c0c", 0.9358, 0.3724)]
for txt, col, hx, hy in heads:
    fig.add_annotation(xref="paper", yref="paper", x=hx, y=hy, xanchor="left", yanchor="middle",
                       text="<b>" + txt + "</b>", showarrow=False, font=dict(family=BOLD, size=29, color=col))

# sample boxes in CV panels
boxes = [("LNMO500", "#0a2b52"), ("LNMO600", "#0a5a0a"), ("LNMO700", "#680000")]
for k, (txt, col) in enumerate(boxes):
    s = "" if k == 0 else str(k + 1)
    fig.add_shape(type="rect", xref="x" + s + " domain", yref="y" + s + " domain", x0=0, x1=0.253, y0=0,
                  y1=0.107, fillcolor=col, line=dict(width=0), layer="above")
    fig.add_annotation(xref="x" + s + " domain", yref="y" + s + " domain", x=0.1265, y=0.0535,
                       xanchor="center", yanchor="middle", text="<b>" + txt + "</b>",
                       showarrow=False, font=dict(family=BOLD, size=35, color="white"))

# panel letters
letters = [("(a)", 0.0191, 0.9709), ("(b)", 0.3506, 0.9709), ("(c)", 0.6832, 0.9709),
           ("(d)", 0.0180, 0.4530), ("(e)", 0.3506, 0.4523), ("(f)", 0.6832, 0.4469)]
for t, lx, ly in letters:
    fig.add_annotation(xref="paper", yref="paper", x=lx, y=ly, xanchor="center", yanchor="middle",
                       text="<b>" + t + "</b>", showarrow=False, font=dict(family=BOLD, size=40, color="black"))

# peak labels
NI34 = "Ni<sup>3+</sup>/Ni<sup>4+</sup>"
NI23 = "Ni<sup>2+</sup>/Ni<sup>3+</sup>"
MN = "Mn<sup>3+</sup>/Mn<sup>4+</sup>"
FE = "Fe<sup>2+</sup>/Fe<sup>3+</sup>"
peaks = [("", NI34, 4.61, 144), ("", NI23, 4.53, 99), ("", MN, 4.07, 45),
         ("2", NI34, 4.564, 110), ("2", NI23, 4.51, 72), ("2", MN, 3.83, 31),
         ("3", NI34, 4.788, 89), ("3", NI23, 4.524, 50), ("3", MN, 3.78, 44), ("3", FE, 3.187, 25)]
for s, t, px, py in peaks:
    fig.add_annotation(xref="x" + s, yref="y" + s, x=px, y=py, text=t, showarrow=False,
                       xanchor="center", yanchor="middle", font=dict(family=FONT, size=28, color="black"))

fig.write_html("out.html")
